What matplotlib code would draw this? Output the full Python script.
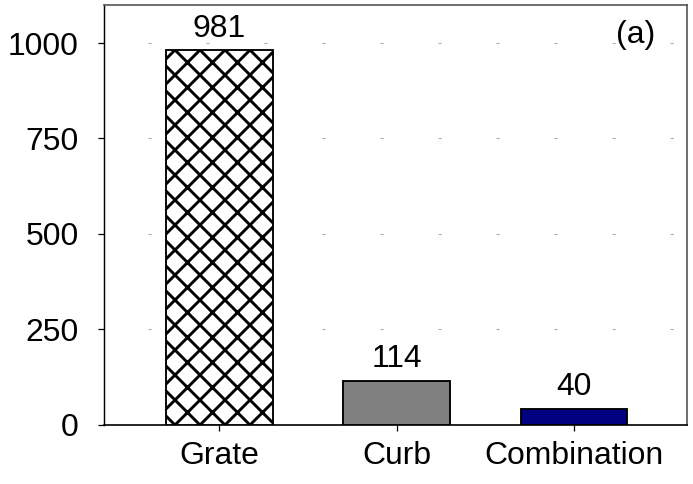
import matplotlib
matplotlib.use('Agg')
from matplotlib import pyplot as plt

CATEGORIES = ['Grate', 'Curb', 'Combination']
COUNTS = [981, 114, 40]
FILL_COLORS = ['white', '#808080', '#000080']
HATCHES = ['xx', '', '']
GRID_LEVELS = [250, 500, 750, 1000]


def main():
    plt.rcParams['font.family'] = ['Liberation Sans', 'DejaVu Sans']
    plt.rcParams['hatch.linewidth'] = 1.4

    # 150 dpi so the hatch cells come out about 25 px wide
    fig = plt.figure(figsize=(693 / 150, 484 / 150), dpi=150)
    ax = fig.add_axes([104 / 693, 1 - 424.5 / 484, 583 / 693, 419.5 / 484])

    positions = list(range(len(CATEGORIES)))
    bars = ax.bar(positions, COUNTS, width=0.6, color=FILL_COLORS,
                  edgecolor='black', linewidth=0.9, zorder=3)
    for bar, hatch in zip(bars, HATCHES):
        bar.set_hatch(hatch)

    for x, v in zip(positions, COUNTS):
        ax.text(x, v + 18, str(v), ha='center', va='bottom', fontsize=15.3)

    # sparse dotted horizontal grid, first dot a bit right of the axis
    ax.hlines(GRID_LEVELS, -0.404, 2.64, colors='#a8a8a8', lw=0.5,
              linestyles=[(0, (2.9, 52.8))], zorder=1)

    ax.set_xlim(-0.652, 2.64)
    ax.set_ylim(0, 1100)
    ax.set_yticks([0, 250, 500, 750, 1000])
    ax.set_xticks(positions)
    ax.set_xticklabels(CATEGORIES)
    ax.tick_params(axis='y', direction='out', length=3, width=0.6, pad=9, labelsize=15.3)
    ax.tick_params(axis='x', direction='out', length=3, width=0.6, pad=5, labelsize=15.3)

    ax.spines['left'].set_linewidth(0.7)
    ax.spines['bottom'].set_linewidth(0.8)
    for side in ['top', 'right']:
        ax.spines[side].set_color('#555555')
        ax.spines[side].set_linewidth(0.8)

    ax.text(0.945, 0.965, '(a)', transform=ax.transAxes, ha='right', va='top', fontsize=15.3)

    fig.savefig('out.png', dpi=150)


if __name__ == '__main__':
    main()
